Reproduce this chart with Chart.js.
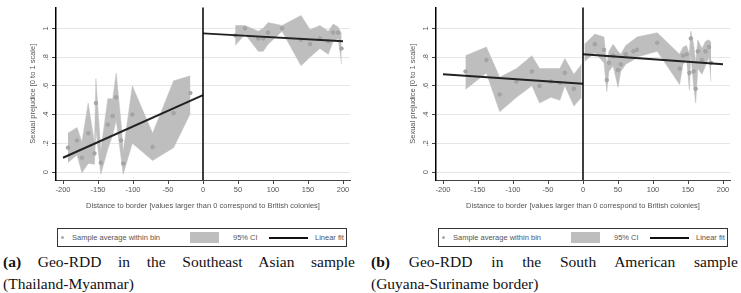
<!DOCTYPE html>
<html>
<head>
<meta charset="utf-8">
<script src="https://cdn.jsdelivr.net/npm/chart.js@4/dist/chart.umd.min.js"></script>
<style>
  body { margin: 0; width: 741px; height: 293px; background: #fff; position: relative; overflow: hidden; font-family: Arial, "Liberation Sans", sans-serif; }
  .panel { position: absolute; top: 0; }
  #pa { left: 0; }
  #pb { left: 380px; }
  .legend { position: absolute; top: 228px; width: 290px; height: 19px; border: 1px solid #333; box-sizing: border-box; font-size: 7.5px; color: #555; }
  .legend span { position: absolute; top: 4px; line-height: 9px; white-space: nowrap; }
  .legend .dot { left: 3px; top: 7px; width: 3px; height: 3px; border-radius: 50%; background: #aaa; }
  .legend .sw { left: 132px; top: 3px; width: 29px; height: 11px; background: #bebebe; }
  .legend .ln { left: 211px; top: 8px; width: 39px; height: 1.5px; background: #111; }
  .cap { position: absolute; top: 251px; font-family: "Liberation Serif", serif; font-size: 15.5px; line-height: 22px; color: #111; text-align: justify; }
  .cap .nb { white-space: nowrap; }
  #ca { left: 3px; width: 352px; }
  #cb { left: 371px; width: 367px; }
</style>
</head>
<body>
<canvas id="pa" class="panel" width="370" height="220"></canvas>
<canvas id="pb" class="panel" width="370" height="220"></canvas>

<div class="legend" style="left:57px">
  <span class="dot"></span><span style="left:14px">Sample average within bin</span>
  <span class="sw"></span><span style="left:175px">95% CI</span>
  <span class="ln"></span><span style="left:257px">Linear fit</span>
</div>
<div class="legend" style="left:438px">
  <span class="dot"></span><span style="left:14px">Sample average within bin</span>
  <span class="sw"></span><span style="left:175px">95% CI</span>
  <span class="ln"></span><span style="left:257px">Linear fit</span>
</div>

<div class="cap" id="ca"><b>(a)</b> Geo-RDD in the Southeast Asian sample <span class="nb">(Thailand-Myanmar)</span></div>
<div class="cap" id="cb"><b>(b)</b> Geo-RDD in the South American sample <span class="nb">(Guyana-Suriname</span> border)</div>

<script>
const xTickValues = [-200, -150, -100, -50, 0, 50, 100, 150, 200];
const yTickValues = [0, 0.2, 0.4, 0.6, 0.8, 1];
const yTickLabels = ['0', '.2', '.4', '.6', '.8', '1'];

// (a) Thailand-Myanmar
const binXA = [-193, -180, -173, -164, -155, -153, -146, -136, -129, -124, -117, -114, -101, -72, -42, -18,
               46, 60, 79, 86, 93, 113, 140, 153, 167, 179, 186, 193, 198];
const meanA = [0.17, 0.22, 0.10, 0.27, 0.13, 0.48, 0.065, 0.33, 0.39, 0.52, 0.22, 0.06, 0.40, 0.175, 0.41, 0.55,
               0.95, 1.0, 0.93, 0.93, 0.97, 1.0, 0.92, 0.89, 0.93, 0.91, 0.97, 0.97, 0.86];
const ciLowA = [0.065, 0.12, -0.005, 0.06, 0.055, 0.30, -0.015, 0.16, 0.26, 0.36, 0.10, -0.015, 0.20, 0.08, 0.17, 0.41,
                0.88, 0.96, 0.84, 0.84, 0.89, 0.98, 0.74, 0.80, 0.86, 0.82, 0.91, 0.93, 0.75];
const ciHighA = [0.27, 0.31, 0.21, 0.48, 0.20, 0.65, 0.15, 0.51, 0.51, 0.69, 0.34, 0.14, 0.60, 0.27, 0.635, 0.67,
                 1.02, 1.02, 0.98, 1.0, 1.04, 1.02, 1.09, 0.99, 1.02, 0.98, 1.03, 1.01, 0.96];
const fitXA = [-200, 0, 0, 200];
const fitYA = [0.10, 0.535, 0.965, 0.91];

// (b) Guyana-Suriname
const binXB = [-168, -138, -119, -95, -73, -62, -46, -33, -26, -13, -2,
               2, 17, 30, 34, 37, 43, 50, 54, 61, 72, 77, 106, 138, 143, 148, 152, 154, 158, 161, 164, 170, 175, 180, 183];
const meanB = [0.70, 0.78, 0.54, 0.63, 0.70, 0.60, 0.63, 0.62, 0.69, 0.58, null,
               null, 0.89, 0.85, 0.64, 0.76, 0.81, 0.71, 0.75, 0.82, 0.84, 0.85, 0.90, 0.72, 0.81, 0.82, 0.69, 0.93, 0.70, 0.58, 0.84, 0.78, 0.84, 0.87, 0.76];
const ciLowB = [0.575, 0.69, 0.42, 0.52, 0.60, 0.48, 0.52, 0.50, 0.60, 0.46, 0.52,
                0.77, 0.83, 0.76, 0.56, 0.70, 0.74, 0.59, 0.70, 0.75, 0.78, 0.80, 0.84, 0.61, 0.75, 0.78, 0.57, 0.82, 0.60, 0.48, 0.72, 0.68, 0.74, 0.80, 0.63];
const ciHighB = [0.81, 0.87, 0.66, 0.72, 0.81, 0.72, 0.72, 0.72, 0.79, 0.68, 0.75,
                 0.89, 0.96, 0.94, 0.74, 0.84, 0.89, 0.84, 0.82, 0.88, 0.92, 0.94, 0.97, 0.82, 0.87, 0.88, 0.82, 0.98, 0.89, 0.76, 0.92, 0.86, 0.91, 0.92, 0.90];
const fitXB = [-200, 0, 0, 200];
const fitYB = [0.68, 0.615, 0.82, 0.75];

const axisText = '#555';
const bandColor = '#bebebe';

function pts(xs, ys) {
  return xs.map((x, i) => ({ x: x, y: ys[i] }));
}

const zeroLine = {
  id: 'zeroLine',
  afterDatasetsDraw(chart) {
    const { ctx, chartArea, scales } = chart;
    const px = scales.x.getPixelForValue(0);
    ctx.save();
    ctx.strokeStyle = '#000';
    ctx.lineWidth = 1.5;
    ctx.beginPath();
    ctx.moveTo(px, chartArea.top);
    ctx.lineTo(px, chartArea.bottom);
    ctx.stroke();
    ctx.restore();
  }
};

function makeChart(id, binX, mean, lo, hi, fitX, fitY) {
  const band = { type: 'line', backgroundColor: bandColor, borderColor: bandColor, borderWidth: 0.5, pointRadius: 0, tension: 0 };
  const fit = { type: 'line', borderColor: '#222', borderWidth: 2, pointRadius: 0, fill: false };
  const hiPts = pts(binX, hi), loPts = pts(binX, lo);

  new Chart(document.getElementById(id), {
    type: 'scatter',
    data: {
      datasets: [
        { ...fit, data: pts(fitX.slice(0, 2), fitY.slice(0, 2)) },
        { ...fit, data: pts(fitX.slice(2), fitY.slice(2)) },
        { type: 'scatter', data: pts(binX, mean).filter(p => p.y !== null), pointRadius: 1.8,
          backgroundColor: '#a8a8a8', borderColor: '#959595', borderWidth: 0.6 },
        { ...band, data: hiPts.filter(p => p.x < 0), fill: '+1' },
        { ...band, data: loPts.filter(p => p.x < 0), fill: false },
        { ...band, data: hiPts.filter(p => p.x > 0), fill: '+1' },
        { ...band, data: loPts.filter(p => p.x > 0), fill: false }
      ]
    },
    options: {
      responsive: false,
      animation: false,
      layout: { padding: { top: 7, right: 20, left: 0, bottom: 0 } },
      plugins: { legend: { display: false }, tooltip: { enabled: false } },
      scales: {
        x: {
          type: 'linear', min: -210, max: 210,
          afterBuildTicks: s => { s.ticks = xTickValues.map(v => ({ value: v })); },
          afterFit: s => { s.height = 40; },
          ticks: { callback: v => String(v), font: { size: 7.5 }, color: axisText, padding: 1, maxRotation: 0, autoSkip: false },
          grid: { drawOnChartArea: false, tickColor: '#444', tickLength: 4 },
          border: { color: '#444', width: 1 },
          title: { display: true, text: 'Distance to border [values larger than 0 correspond to British colonies]',
                   font: { size: 7.5 }, color: axisText, padding: { top: 0, bottom: 9.5 } }
        },
        y: {
          type: 'linear', min: -0.055, max: 1.145,
          afterBuildTicks: s => { s.ticks = yTickValues.map(v => ({ value: v })); },
          afterFit: s => { s.width = 56; },
          ticks: { callback: (v, i) => yTickLabels[i], minRotation: 90, maxRotation: 90, crossAlign: 'center',
                   padding: 3, font: { size: 7.5 }, color: axisText },
          grid: { color: '#e6e6e6', tickColor: '#444', tickLength: 4 },
          border: { color: '#000', width: 1.5 },
          title: { display: true, text: 'Sexual prejudice [0 to 1 scale]', font: { size: 7.5 }, color: axisText,
                   padding: { top: 28, bottom: 0 } }
        }
      }
    },
    plugins: [zeroLine]
  });
}

makeChart('pa', binXA, meanA, ciLowA, ciHighA, fitXA, fitYA);
makeChart('pb', binXB, meanB, ciLowB, ciHighB, fitXB, fitYB);
</script>
</body>
</html>
